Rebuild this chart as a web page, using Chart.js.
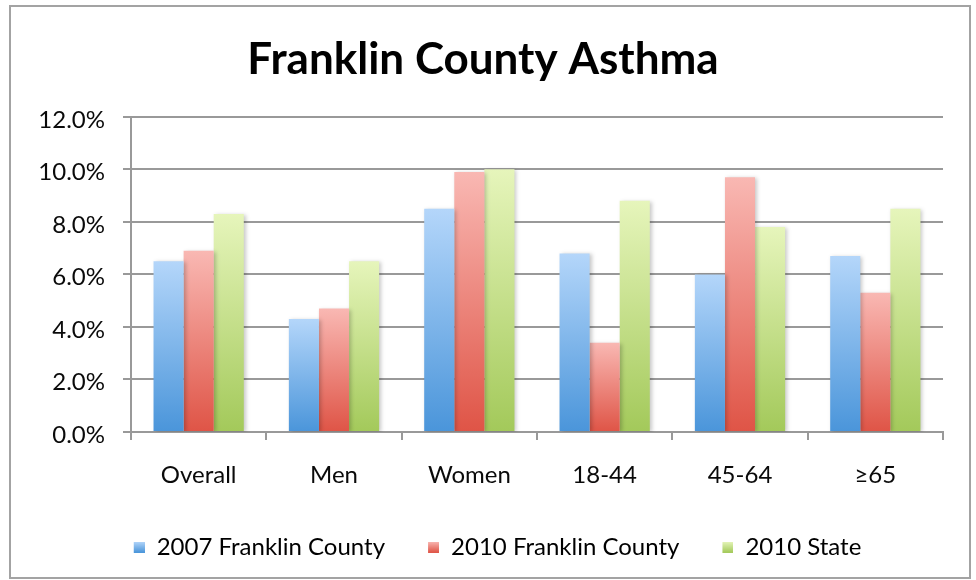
<!DOCTYPE html>
<html>
<head>
<meta charset="utf-8">
<title>Franklin County Asthma</title>
<script src="https://cdn.jsdelivr.net/npm/chart.js@4/dist/chart.umd.min.js"></script>
<style>
  html, body { margin: 0; padding: 0; background: #fff; overflow: hidden; }
  #wrap { position: relative; width: 976px; height: 580px; }
  #frame {
    position: absolute; left: 9px; top: 5px; width: 958px; height: 570px;
    border: 2px solid #a3a3a3; pointer-events: none;
  }
</style>
</head>
<body>
<div id="wrap">
  <canvas id="asthmaChart" width="976" height="580"></canvas>
  <div id="frame"></div>
</div>
<script>
const categories = ["Overall", "Men", "Women", "18-44", "45-64", "\u226565"];
const seriesNames = ["2007 Franklin County", "2010 Franklin County", "2010 State"];
const county2007 = [6.5, 4.3, 8.5, 6.8, 6.0, 6.7];
const county2010 = [6.9, 4.7, 9.9, 3.4, 9.7, 5.3];
const state2010 = [8.3, 6.5, 10.0, 8.8, 7.8, 8.5];
const yTicks = [0, 2, 4, 6, 8, 10, 12];

// light top -> dark bottom for each series
const palettes = [
  { top: "#b4d6fa", bottom: "#4a95da", swatch: "#6aa8e4" },
  { top: "#f9b8b3", bottom: "#df5446", swatch: "#ea7d73" },
  { top: "#e6f5bb", bottom: "#a3c95a", swatch: "#bcd97f" },
];

const FONT = "Lato, 'Open Sans', sans-serif";
const TEXT = "#0a0a0a";

// legend swatch: small gradient square sitting at the right end of a wider,
// transparent image so the legend entries get more room between them
const SWATCH = 11;
const SWATCH_LEAD = 29;

function makeSwatch(pal) {
  const c = document.createElement("canvas");
  c.width = SWATCH + SWATCH_LEAD;
  c.height = SWATCH;
  const g = c.getContext("2d");
  const grad = g.createLinearGradient(0, 0, 0, SWATCH);
  grad.addColorStop(0, pal.top);
  grad.addColorStop(1, pal.bottom);
  g.fillStyle = grad;
  g.fillRect(SWATCH_LEAD, 0, SWATCH, SWATCH);
  return c;
}

function barGradient(pal) {
  return function (ctx) {
    const chart = ctx.chart;
    if (ctx.type !== "data" || !chart.chartArea) return pal.swatch;
    const y = chart.scales.y;
    const top = y.getPixelForValue(ctx.raw);
    const bottom = y.getPixelForValue(0);
    if (!isFinite(top) || top === bottom) return pal.swatch;
    const g = chart.ctx.createLinearGradient(0, top, 0, bottom);
    g.addColorStop(0, pal.top);
    g.addColorStop(1, pal.bottom);
    return g;
  };
}

// soft drop shadow behind the bars
const barShadow = {
  id: "barShadow",
  beforeDatasetsDraw(chart) {
    const c = chart.ctx;
    c.save();
    c.shadowColor = "rgba(0,0,0,0.22)";
    c.shadowBlur = 4;
    c.shadowOffsetX = 2;
    c.shadowOffsetY = 1;
  },
  afterDatasetsDraw(chart) {
    chart.ctx.restore();
  },
};

const seriesData = [county2007, county2010, state2010];
const swatches = palettes.map(makeSwatch);

new Chart(document.getElementById("asthmaChart"), {
  type: "bar",
  data: {
    labels: categories,
    datasets: seriesData.map((values, i) => ({
      label: seriesNames[i],
      data: values,
      backgroundColor: barGradient(palettes[i]),
      borderWidth: 0,
      barPercentage: 1,
      categoryPercentage: 0.667,
    })),
  },
  options: {
    responsive: false,
    animation: false,
    events: [],
    layout: { padding: { left: 23, right: 33, top: 0, bottom: 11 } },
    plugins: {
      title: {
        display: true,
        text: "Franklin County Asthma",
        color: "#000",
        font: { family: FONT, size: 44, weight: "bold" },
        padding: { top: 33, bottom: 31 },
      },
      legend: {
        position: "bottom",
        labels: {
          color: TEXT,
          font: { family: FONT, size: 24 },
          usePointStyle: true,
          pointStyleWidth: SWATCH + SWATCH_LEAD,
          boxHeight: SWATCH,
          padding: 14,
          generateLabels(chart) {
            return chart.data.datasets.map((ds, i) => ({
              text: ds.label,
              fillStyle: palettes[i].swatch,
              strokeStyle: palettes[i].swatch,
              pointStyle: swatches[i],
              lineWidth: 0,
              hidden: false,
              datasetIndex: i,
            }));
          },
        },
      },
      tooltip: { enabled: false },
    },
    scales: {
      x: {
        afterFit(scale) {
          scale.height = 89;
        },
        grid: {
          offset: true,
          drawOnChartArea: false,
          color: "#999",
          lineWidth: 2,
          tickLength: 8,
        },
        border: { color: "#999", width: 2 },
        ticks: {
          color: TEXT,
          font: { family: FONT, size: 24 },
          padding: 21,
        },
      },
      y: {
        min: 0,
        max: 12,
        afterBuildTicks(scale) {
          scale.ticks = yTicks.map((v) => ({ value: v }));
        },
        afterFit(scale) {
          scale.width = 108;
        },
        grid: { color: "#999", lineWidth: 2, tickLength: 8 },
        border: { color: "#999", width: 2 },
        ticks: {
          color: TEXT,
          font: { family: FONT, size: 24 },
          padding: 18,
          labelOffset: 3,
          callback: (v) => Number(v).toFixed(1) + "%",
        },
      },
    },
  },
  plugins: [barShadow],
});
</script>
</body>
</html>
